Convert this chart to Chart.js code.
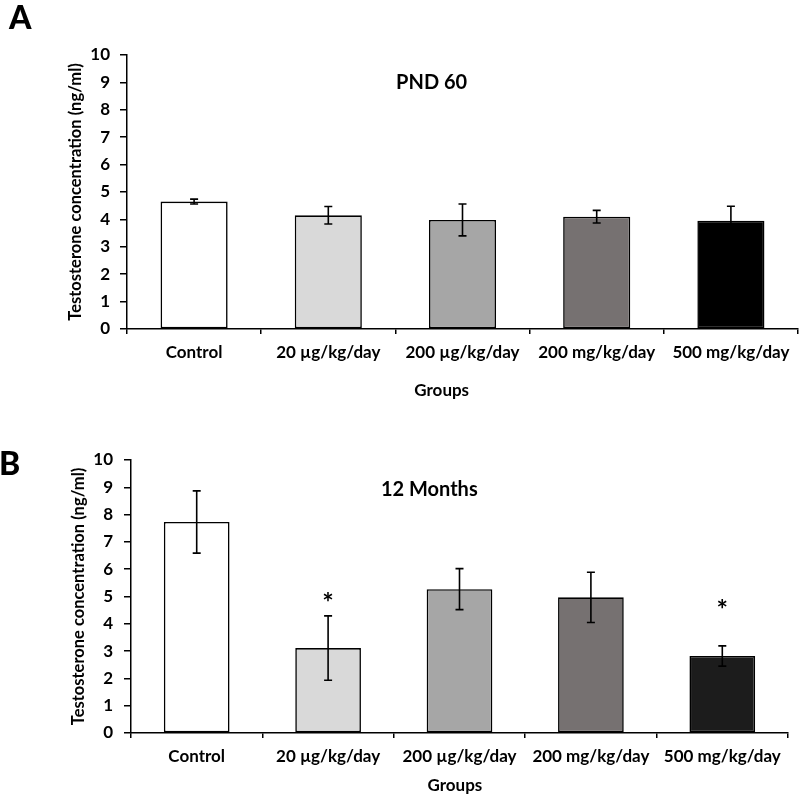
<!DOCTYPE html>
<html>
<head>
<meta charset="utf-8">
<script src="https://cdn.jsdelivr.net/npm/chart.js@4/dist/chart.umd.min.js"></script>
<style>
  html, body { margin: 0; padding: 0; background: #fff; }
  #wrap { position: relative; width: 800px; height: 797px; overflow: hidden; }
  .panel { position: absolute; left: 0; width: 800px; }
  .tag { position: absolute; font-family: Lato, "Open Sans", sans-serif; font-weight: 900; font-size: 32px; color: #000; line-height: 1; }
</style>
</head>
<body>
<div id="wrap">
  <div class="panel" style="top:0;height:400px;"><canvas id="cA" width="800" height="400"></canvas></div>
  <div class="panel" style="top:400px;height:397px;"><canvas id="cB" width="800" height="397"></canvas></div>
  <div class="tag" style="left:9px;top:1px;">A</div>
  <div class="tag" style="left:-1px;top:447px;">B</div>
</div>
<script>
// ---- data ----
const groups = ["Control", "20 µg/kg/day", "200 µg/kg/day", "200 mg/kg/day", "500 mg/kg/day"];
const pnd60Means = [4.65, 4.15, 3.98, 4.10, 3.95];
const pnd60Errors = [0.09, 0.32, 0.58, 0.23, 0.53];
const month12Means = [7.73, 3.11, 5.27, 4.97, 2.82];
const month12Errors = [1.14, 1.18, 0.75, 0.92, 0.37];
const month12Stars = ["", "*", "", "", "*"];
const month12StarLevels = [null, 4.95, null, null, 4.66];
const yTicks = [0, 1, 2, 3, 4, 5, 6, 7, 8, 9, 10];
const colorsA = ["#ffffff", "#d9d9d9", "#a6a6a6", "#767171", "#000000"];
const colorsB = ["#ffffff", "#d9d9d9", "#a6a6a6", "#767171", "#1c1c1c"];

const FONT = 'Lato, "Open Sans", sans-serif';

const errorBarPlugin = {
  id: 'errorBars',
  afterDatasetsDraw(chart, args, opts) {
    const {ctx, scales: {x, y}} = chart;
    const means = opts.means, errs = opts.errors;
    ctx.save();
    ctx.strokeStyle = '#000';
    ctx.lineWidth = 1.6;
    means.forEach((m, i) => {
      const px = x.getPixelForValue(i);
      const top = y.getPixelForValue(m + errs[i]);
      const bot = y.getPixelForValue(m - errs[i]);
      ctx.beginPath();
      ctx.moveTo(px, top); ctx.lineTo(px, bot);
      ctx.moveTo(px - 4, top); ctx.lineTo(px + 4, top);
      ctx.moveTo(px - 4, bot); ctx.lineTo(px + 4, bot);
      ctx.stroke();
    });
    if (opts.stars) {
      ctx.fillStyle = '#000';
      ctx.font = 'bold 27px ' + FONT;
      ctx.textAlign = 'center';
      ctx.textBaseline = 'middle';
      opts.stars.forEach((s, i) => {
        if (!s) return;
        ctx.fillText(s, x.getPixelForValue(i), y.getPixelForValue(opts.starLevels[i]) + 5);
      });
    }
    ctx.restore();
  }
};

const textPlugin = {
  id: 'panelTexts',
  afterDraw(chart, args, opts) {
    const {ctx, chartArea} = chart;
    const w = chartArea.right - chartArea.left;
    ctx.save();
    ctx.fillStyle = '#000';
    ctx.textAlign = 'center';
    ctx.textBaseline = 'middle';
    ctx.font = 'bold 20px ' + FONT;
    ctx.fillText(opts.title, chartArea.left + w * opts.titleFx, chartArea.top + opts.titleDy);
    ctx.font = 'bold 17px ' + FONT;
    ctx.fillText(opts.xTitle, chartArea.left + w * opts.xTitleFx, chartArea.bottom + opts.xTitleDy);
    ctx.restore();
  }
};

function makeChart(id, means, errs, colors, cfg) {
  return new Chart(document.getElementById(id), {
    type: 'bar',
    data: {
      labels: groups,
      datasets: [{
        data: means,
        backgroundColor: colors,
        borderColor: '#000',
        borderWidth: 1.6,
        borderSkipped: false,
        categoryPercentage: 1.0,
        barPercentage: 0.5
      }]
    },
    plugins: [errorBarPlugin, textPlugin],
    options: {
      responsive: false,
      animation: false,
      devicePixelRatio: 1,
      layout: { padding: { left: cfg.padLeft, top: cfg.padTop, right: cfg.padRight, bottom: 0 } },
      plugins: {
        legend: { display: false },
        tooltip: { enabled: false },
        errorBars: { means: means, errors: errs, stars: cfg.stars, starLevels: cfg.starLevels },
        panelTexts: { title: cfg.title, titleFx: 0.454, titleDy: cfg.titleDy, xTitle: 'Groups', xTitleFx: cfg.xTitleFx, xTitleDy: cfg.xTitleDy }
      },
      scales: {
        x: {
          offset: true,
          grid: { display: true, offset: true, drawOnChartArea: false, drawTicks: true, tickLength: 5, color: '#000', lineWidth: 1.5 },
          border: { display: true, color: '#000', width: 1.5 },
          ticks: { color: '#000', padding: 8, maxRotation: 0, autoSkip: false, font: { family: FONT, size: 17, weight: 'bold' } },
          afterFit(scale) { scale.height = cfg.xHeight; }
        },
        y: {
          min: 0, max: 10,
          afterBuildTicks(scale) { scale.ticks = yTicks.map(v => ({ value: v })); },
          grid: { display: true, drawOnChartArea: false, drawTicks: true, tickLength: 7, color: '#000', lineWidth: 1.5 },
          border: { display: true, color: '#000', width: 1.5 },
          ticks: { color: '#000', padding: cfg.yTickPad, font: { family: FONT, size: 17, weight: 'bold' } },
          title: { display: true, text: 'Testosterone concentration (ng/ml)', color: '#000', padding: { top: 4, bottom: 4 }, font: { family: FONT, size: 16.5, weight: 'bold' } },
          afterFit(scale) { scale.width = cfg.yWidth; }
        }
      }
    }
  });
}

makeChart('cA', pnd60Means, pnd60Errors, colorsA, {
  padLeft: 62, padTop: 55, padRight: 2, xHeight: 71,
  yWidth: 65, yTickPad: 10, title: 'PND 60', titleDy: 28,
  xTitleFx: 0.469, xTitleDy: 62
});
makeChart('cB', month12Means, month12Errors, colorsB, {
  padLeft: 65, padTop: 60, padRight: 12, xHeight: 64,
  yWidth: 66, yTickPad: 11, title: '12 Months', titleDy: 30,
  xTitleFx: 0.493, xTitleDy: 53,
  stars: month12Stars, starLevels: month12StarLevels
});
</script>
</body>
</html>
